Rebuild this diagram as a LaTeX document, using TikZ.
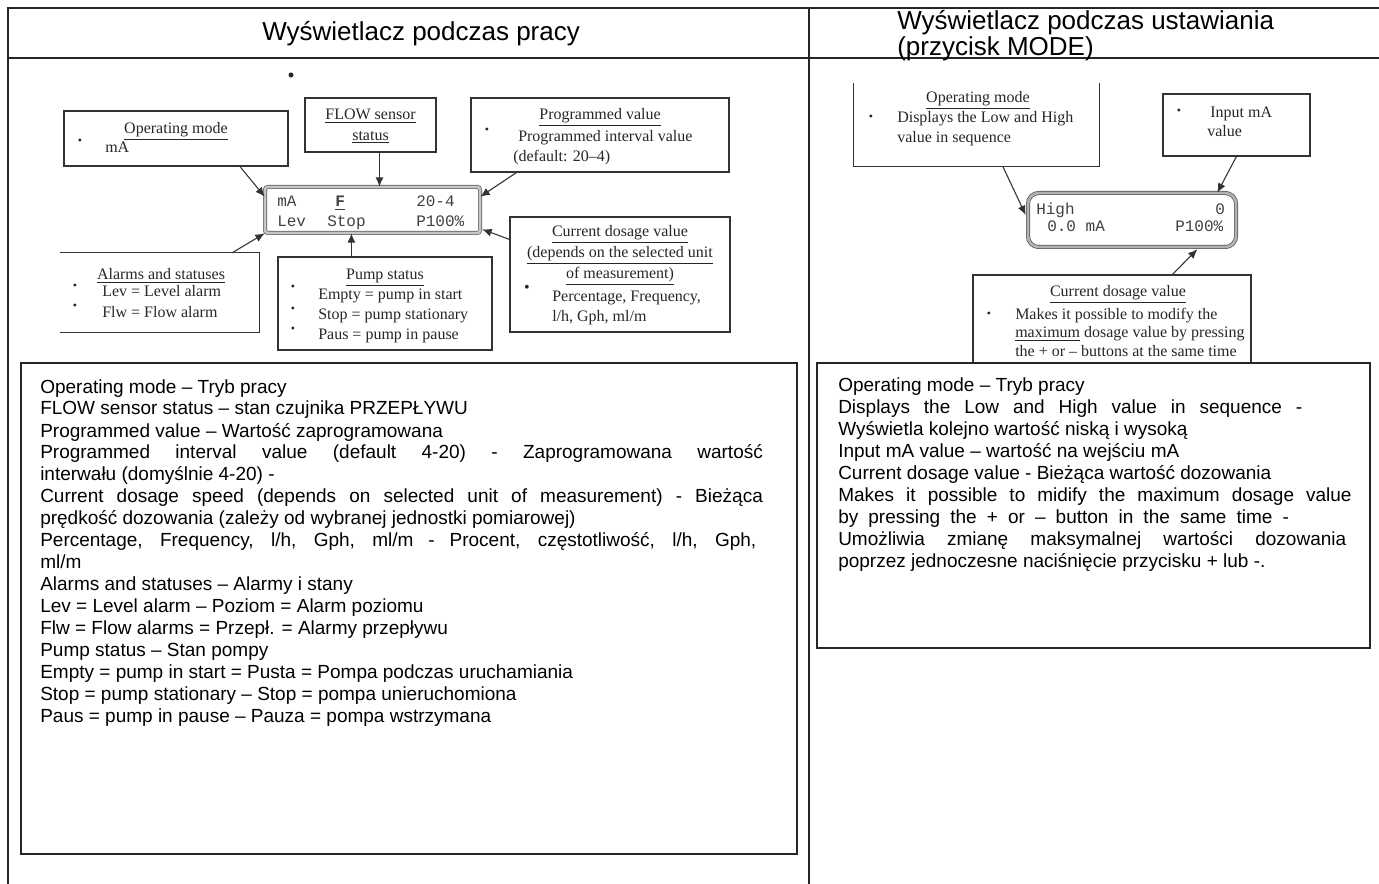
\documentclass[tikz,border=0pt]{standalone}
\usepackage{fontspec}
\setmainfont{Liberation Sans}
\newfontfamily\dgfont{Liberation Serif}
\newfontfamily\lcdfont{Liberation Mono}
\usetikzlibrary{arrows.meta,fit,positioning}

% first line of a block sits on the node's base
\newcommand\lnl[1]{\begin{tabular}[t]{@{}l@{}}#1\end{tabular}}
\newcommand\lnc[1]{\begin{tabular}[t]{@{}c@{}}#1\end{tabular}}
\newcommand\jline[2]{\hbox to #1{#2}}

\tikzset{
  cell/.style={line width=1.5pt, draw=black!85},
  box/.style={draw=black!80, line width=0.9pt, inner sep=0pt},
  txt/.style={anchor=base west, inner sep=0pt, font=\fontsize{14.25}{16.5}\selectfont},
  head/.style={anchor=base west, inner sep=0pt, font=\fontsize{19.5}{16.5}\selectfont},
  dg/.style={anchor=base west, inner sep=0pt, font=\dgfont\fontsize{12}{15.4}\selectfont, text=black!85},
  dgt/.style={dg, anchor=base},
  bul/.style={inner sep=0pt, font=\dgfont\fontsize{9}{9}\selectfont, text=black!85},
  lcd/.style={draw=gray!70!black, double=gray!45, double distance=2pt, line width=0.5pt, rounded corners=2pt, inner sep=0pt},
  mono/.style={anchor=base west, inner sep=0pt, font=\lcdfont\fontsize{12}{15}\selectfont, text=black!75},
  arr/.style={->, line width=0.8pt, draw=black!80},
}

\begin{document}
\begin{tikzpicture}[x=0.75pt, y=-0.75pt, >={Latex[length=7pt,width=6pt]}]
\useasboundingbox (0,0) rectangle (1379,884);

% table
\draw[cell] (1390,8) -- (8,8) -- (8,890);
\draw[cell] (8,58) -- (1390,58);
\draw[cell] (809,8) -- (809,890);
\node[head] (headL) at (262,41) {Wyświetlacz podczas pracy};
\node[head] (headR) at (897,30) {\lnl{Wyświetlacz podczas ustawiania\\(przycisk MODE)}};

% display during operation
\fill[black!85] (291,75) circle (2.5);

\node[box, fit={(64,111) (288,166)}] (opL) {};
\node[dgt] (opLt) at (176,134) {\underline{Operating mode}};
\node[bul] (opLb) at (80,142) {\textbullet};
\node[dg] (opLa) at (105,153) {mA};

\node[box, fit={(305,98) (436,152)}] (flowL) {};
\node[dgt] (flowLt) at (370.5,120) {\lnc{\underline{FLOW sensor}\\\underline{status}}};

\node[box, fit={(471,98) (729,172)}] (progL) {};
\node[dgt] (progLt) at (600,120) {\underline{Programmed value}};
\node[bul] (progLb) at (487,131) {\textbullet};
\node[dg] (progLa) at (518,142) {Programmed interval value};
\node[dg] (progLc) at (513,162) {(default: 20–4)};

\node[lcd, fit={(265,187) (480,233)}] (lcdL) {};
\node[mono] (lcdL1) at (277,207) {mA};
\node[mono] (lcdL2) at (335,207) {\textbf{\underline{F}}};
\node[mono] (lcdL3) at (416,207) {20-4};
\node[mono] (lcdL4) at (277,227) {Lev};
\node[mono] (lcdL5) at (327,227) {Stop};
\node[mono] (lcdL6) at (416,227) {P100\%};

\node[fit={(60,253) (259,332)}, inner sep=0pt] (almL) {};
\draw[draw=black!80, line width=0.9pt] (almL.north west) -| (almL.south east) -- (almL.south west);
\node[dgt] (almLt) at (161,280) {\underline{Alarms and statuses}};
\node[bul] (almLb1) at (75,287) {\textbullet};
\node[bul] (almLb2) at (75,307) {\textbullet};
\node[dg] (almLa) at (102,297) {Lev = Level alarm};
\node[dg] (almLc) at (102,318) {Flw = Flow alarm};

\node[box, fit={(278,257) (492,350)}] (pmpL) {};
\node[dgt] (pmpLt) at (385,280) {\underline{Pump status}};
\node[bul] (pmpLb1) at (293,288) {\textbullet};
\node[bul] (pmpLb2) at (293,310) {\textbullet};
\node[bul] (pmpLb3) at (293,330) {\textbullet};
\node[dg] (pmpLa) at (318,300) {Empty = pump in start};
\node[dg] (pmpLc) at (318,320) {Stop = pump stationary};
\node[dg] (pmpLd) at (318,340) {Paus = pump in pause};

\node[box, fit={(510,217) (730,332)}] (curL) {};
\node[dgt] (curLt1) at (620,237) {\underline{Current dosage value}};
\node[dgt] (curLt2) at (620,258) {\underline{(depends on the selected unit}};
\node[dgt] (curLt3) at (620,279) {\underline{of measurement)}};
\node[bul, font=\dgfont\fontsize{12}{12}\selectfont] (curLb) at (527,289) {\textbullet};
\node[dg] (curLa) at (552,302) {Percentage, Frequency,};
\node[dg] (curLc) at (552,322) {l/h, Gph, ml/m};

\draw[arr] ([shift={(64,0)}]opL.south) -- ([shift={(0,10)}]lcdL.north west);
\coordinate (fS) at ([shift={(9,0)}]flowL.south);
\draw[arr] (fS) -- (fS |- lcdL.north);
\draw[arr] ([shift={(46,0)}]progL.south west) -- ([shift={(0,10)}]lcdL.north east);
\draw[arr] ([shift={(0,23)}]curL.north west) -- ([shift={(2,-4)}]lcdL.south east);
\draw[arr] ([shift={(-27,0)}]almL.north east) -- (lcdL.south west);
\coordinate (pN) at ([shift={(74,0)}]pmpL.north west);
\draw[arr] (pN) -- (pN |- lcdL.south);

% display during setting
\node[fit={(854,83) (1099,166)}, inner sep=0pt] (opR) {};
\draw[draw=black!80, line width=0.9pt] (opR.north west) |- (opR.south east) -- (opR.north east);
\node[dgt] (opRt) at (978,103) {\underline{Operating mode}};
\node[bul] (opRb) at (871,118) {\textbullet};
\node[dg] (opRa) at (897,123) {Displays the Low and High};
\node[dg] (opRc) at (897,143) {value in sequence};

\node[box, fit={(1163,94) (1310,156)}] (inR) {};
\node[bul] (inRb) at (1179,112) {\textbullet};
\node[dg] (inRa) at (1210,118) {Input mA};
\node[dg] (inRc) at (1207,137) {value};

\node[lcd, draw=black!70, double=gray!60, rounded corners=8pt, fit={(1028,193) (1236,247)}] (lcdR) {};
\node[mono] (lcdR1) at (1036,215) {High};
\node[mono] (lcdR2) at (1215,215) {0};
\node[mono] (lcdR3) at (1047,232) {0.0 mA};
\node[mono] (lcdR4) at (1175,232) {P100\%};

\node[box, fit={(973,275) (1251,400)}] (curR) {};
\node[dgt] (curRt) at (1118,297) {\underline{Current dosage value}};
\node[bul] (curRb) at (989,315) {\textbullet};
\node[dg] (curRa) at (1015,320) {Makes it possible to modify the};
\node[dg] (curRc) at (1015,338) {\underline{maximum} dosage value by pressing};
\node[dg] (curRd) at (1015,357) {the + or – buttons at the same time};

\draw[arr] ([shift={(149,0)}]opR.south west) -- ([shift={(-2,-5)}]lcdR.west);
\draw[arr] ([shift={(74,0)}]inR.south west) -- ([shift={(-19,0)}]lcdR.north east);
\draw[arr] ([shift={(200,0)}]curR.north west) -- ([shift={(-39,2)}]lcdR.south east);

% translations
\node[box, draw=black!85, line width=1pt, fill=white, fit={(21,363) (797,854)}] (expL) {};
\node[txt] (expLt) at (40,393) {\lnl{Operating mode – Tryb pracy\\
FLOW sensor status – stan czujnika PRZEPŁYWU\\
Programmed value – Wartość zaprogramowana\\
\jline{542pt}{Programmed interval value (default 4-20) - Zaprogramowana wartość}\\
interwału (domyślnie 4-20) -\\
\jline{542pt}{Current dosage speed (depends on selected unit of measurement) - Bieżąca}\\
prędkość dozowania (zależy od wybranej jednostki pomiarowej)\\
\jline{537pt}{Percentage, Frequency, l/h, Gph, ml/m - Procent, częstotliwość, l/h, Gph,}\\
ml/m\\
Alarms and statuses – Alarmy i stany\\
Lev = Level alarm – Poziom = Alarm poziomu\\
Flw = Flow alarms = Przepł. = Alarmy przepływu\\
Pump status – Stan pompy\\
Empty = pump in start = Pusta = Pompa podczas uruchamiania\\
Stop = pump stationary – Stop = pompa unieruchomiona\\
Paus = pump in pause – Pauza = pompa wstrzymana}};

\node[box, draw=black!85, line width=1pt, fill=white, fit={(817,363) (1370,648)}] (expR) {};
\node[txt] (expRt) at (838,392) {\lnl{Operating mode – Tryb pracy\\
\jline{348pt}{Displays the Low and High value in sequence -}\\
Wyświetla kolejno wartość niską i wysoką\\
Input mA value – wartość na wejściu mA\\
Current dosage value - Bieżąca wartość dozowania\\
\jline{385pt}{Makes it possible to midify the maximum dosage value}\\
\jline{338pt}{by pressing the + or – button in the same time -}\\
\jline{381pt}{Umożliwia zmianę maksymalnej wartości dozowania}\\
poprzez jednoczesne naciśnięcie przycisku + lub -.}};
\end{tikzpicture}
\end{document}
